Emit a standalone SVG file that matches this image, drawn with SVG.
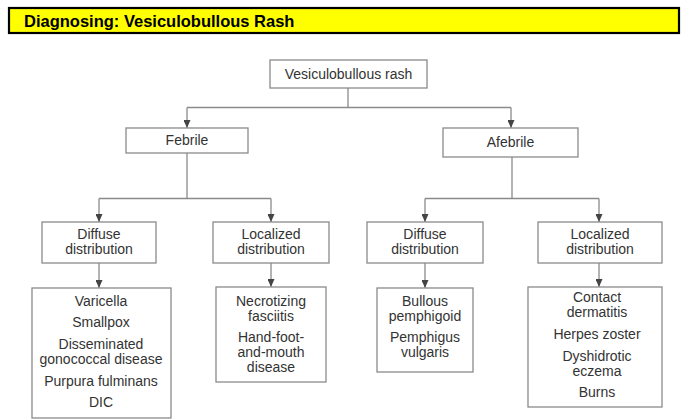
<svg xmlns="http://www.w3.org/2000/svg" width="696" height="420" viewBox="0 0 696 420">
<style>
.bx{fill:#fff;stroke:#8a8a8a;stroke-width:1.3}
.t{font-family:"Liberation Sans",Arial,sans-serif;font-size:14px;fill:#333;text-anchor:middle}
.ln{fill:none;stroke:#8a8a8a;stroke-width:1.3}
</style>
<defs>
<marker id="ah" markerWidth="8" markerHeight="7" refX="8" refY="3.5" orient="auto" markerUnits="userSpaceOnUse" viewBox="0 0 8 7">
<path d="M0,0 L8,3.5 L0,7 Z" fill="#444"/>
</marker>
</defs>
<rect width="696" height="420" fill="#fff"/>
<g id="header">
<rect x="9" y="8" width="670" height="25" fill="#ffff00" stroke="#000" stroke-width="2.2"/>
<text x="24" y="27" font-family="Liberation Sans,Arial,sans-serif" font-size="16.5" font-weight="bold" fill="#000">Diagnosing: Vesiculobullous Rash</text>
</g>
<g id="connectors">
<path class="ln" d="M348,88 V107.5"/>
<path class="ln" d="M187,107.5 H511"/>
<path class="ln" d="M187,107.5 V128" marker-end="url(#ah)"/>
<path class="ln" d="M511,107.5 V128" marker-end="url(#ah)"/>
<path class="ln" d="M187,153 V198.5"/>
<path class="ln" d="M99,198.5 H271"/>
<path class="ln" d="M99,198.5 V222" marker-end="url(#ah)"/>
<path class="ln" d="M271,198.5 V222" marker-end="url(#ah)"/>
<path class="ln" d="M512,157 V198.5"/>
<path class="ln" d="M425,198.5 H599"/>
<path class="ln" d="M425,198.5 V222" marker-end="url(#ah)"/>
<path class="ln" d="M599,198.5 V222" marker-end="url(#ah)"/>
<path class="ln" d="M99,263 V288" marker-end="url(#ah)"/>
<path class="ln" d="M271,263 V287" marker-end="url(#ah)"/>
<path class="ln" d="M425,263 V288" marker-end="url(#ah)"/>
<path class="ln" d="M599,263 V287" marker-end="url(#ah)"/>
</g>
<g id="root">
<rect class="bx" x="270" y="60" width="157" height="28"/>
<text class="t" x="348.5" y="79">Vesiculobullous rash</text>
</g>
<g id="febrile">
<rect class="bx" x="126" y="128" width="122" height="25"/>
<text class="t" x="187" y="145">Febrile</text>
</g>
<g id="afebrile">
<rect class="bx" x="443" y="128" width="135" height="29"/>
<text class="t" x="510.5" y="147">Afebrile</text>
</g>
<g id="febrile-diffuse">
<rect class="bx" x="42" y="222" width="114" height="41"/>
<text class="t" x="99" y="239">Diffuse</text>
<text class="t" x="99" y="254">distribution</text>
</g>
<g id="febrile-localized">
<rect class="bx" x="213" y="222" width="116" height="41"/>
<text class="t" x="271" y="239">Localized</text>
<text class="t" x="271" y="254">distribution</text>
</g>
<g id="afebrile-diffuse">
<rect class="bx" x="367" y="222" width="116" height="41"/>
<text class="t" x="425" y="239">Diffuse</text>
<text class="t" x="425" y="254">distribution</text>
</g>
<g id="afebrile-localized">
<rect class="bx" x="538" y="222" width="124" height="41"/>
<text class="t" x="600" y="239">Localized</text>
<text class="t" x="600" y="254">distribution</text>
</g>
<g id="febrile-diffuse-list">
<rect class="bx" x="32" y="288" width="139" height="130"/>
<text class="t" x="101" y="306">Varicella</text>
<text class="t" x="101" y="327">Smallpox</text>
<text class="t" x="101" y="349">Disseminated</text>
<text class="t" x="101" y="364">gonococcal disease</text>
<text class="t" x="101" y="386">Purpura fulminans</text>
<text class="t" x="101" y="407">DIC</text>
</g>
<g id="febrile-localized-list">
<rect class="bx" x="216" y="287" width="110" height="95"/>
<text class="t" x="271" y="305.5">Necrotizing</text>
<text class="t" x="271" y="320.5">fasciitis</text>
<text class="t" x="271" y="342">Hand-foot-</text>
<text class="t" x="271" y="357">and-mouth</text>
<text class="t" x="271" y="372">disease</text>
</g>
<g id="afebrile-diffuse-list">
<rect class="bx" x="377" y="288" width="96" height="84"/>
<text class="t" x="425" y="305.5">Bullous</text>
<text class="t" x="425" y="320.5">pemphigoid</text>
<text class="t" x="425" y="341.5">Pemphigus</text>
<text class="t" x="425" y="356.5">vulgaris</text>
</g>
<g id="afebrile-localized-list">
<rect class="bx" x="528" y="287" width="134" height="120"/>
<text class="t" x="597" y="302">Contact</text>
<text class="t" x="597" y="317">dermatitis</text>
<text class="t" x="597" y="339">Herpes zoster</text>
<text class="t" x="597" y="361">Dyshidrotic</text>
<text class="t" x="597" y="376">eczema</text>
<text class="t" x="597" y="397">Burns</text>
</g>
</svg>
